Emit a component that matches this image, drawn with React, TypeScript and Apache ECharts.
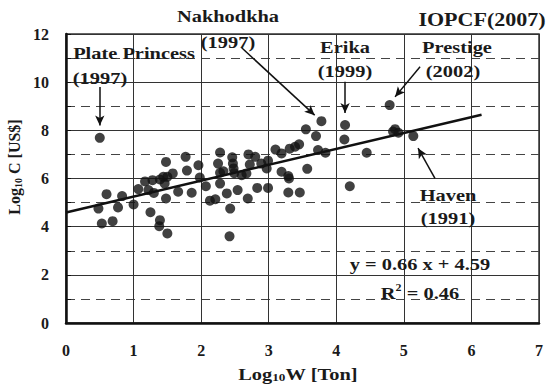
import React, { useEffect, useRef } from "react";
import * as echarts from "echarts";

// log10 of spilled oil weight (tons) and log10 of cleanup cost (US$), one pair per incident
const logWeight = [
  0.5, 0.48, 0.53, 0.69, 0.6, 0.77, 0.83, 1.0, 1.07, 1.17, 1.22, 1.3, 1.28, 1.39, 1.44,
  1.25, 1.39, 1.38, 1.5, 1.46, 1.48, 1.5, 1.58, 1.48, 1.66, 1.77, 1.79, 1.86, 1.96, 1.98,
  2.07, 2.13, 2.21, 2.28, 2.25, 2.28, 2.33, 2.28, 2.38, 2.43, 2.42, 2.46, 2.47, 2.48, 2.49,
  2.6, 2.54, 2.67, 2.69, 2.7, 2.8, 2.72, 2.89, 2.97, 2.99, 2.83, 2.99, 3.1, 3.19, 3.19,
  3.29, 3.3, 3.29, 3.46, 3.31, 3.39, 3.45, 3.57, 3.55, 3.7, 3.78, 3.73, 3.84, 4.13, 4.12,
  4.2, 4.45, 4.79, 4.84, 4.87, 4.92, 5.14,
];
const logCost = [
  7.69, 4.75, 4.13, 4.23, 5.35, 4.8, 5.27, 4.92, 5.56, 5.88, 5.52, 5.4, 5.93, 5.96, 6.07,
  4.6, 4.27, 4.02, 3.72, 5.79, 5.17, 6.07, 6.21, 6.69, 5.45, 6.9, 6.33, 5.41, 6.55, 6.04,
  5.68, 5.08, 5.14, 7.08, 6.62, 6.24, 6.3, 5.79, 5.38, 4.75, 3.6, 6.88, 6.62, 6.42, 6.22,
  6.14, 5.52, 6.21, 5.17, 7.0, 6.9, 6.58, 6.62, 6.42, 6.74, 5.61, 5.61, 7.2, 7.04, 6.28,
  6.1, 6.0, 5.42, 5.42, 7.24, 7.32, 7.42, 6.4, 8.04, 7.76, 8.38, 7.18, 7.07, 8.22, 7.62,
  5.68, 7.07, 9.05, 7.95, 8.05, 7.9, 7.76,
];

// least-squares fit y = slope * x + intercept
const slope = 0.66;
const intercept = 4.59;
const fitRange = [0, 6.15];
const rSquared = 0.46;

const xTicks = [0, 1, 2, 3, 4, 5, 6, 7];
const yTicks = [0, 2, 4, 6, 8, 10, 12];

const SERIF = "'Liberation Serif', 'Times New Roman', serif";
const INK = "#1a1a1a";

export default function App() {
  const ref = useRef<HTMLDivElement>(null);

  useEffect(() => {
    document.body.style.margin = "0";
    if (!ref.current) return;
    const chart = echarts.init(ref.current, undefined, { renderer: "svg" });

    const points = logWeight.map((w, i) => [w, logCost[i]]);
    const fitLine = fitRange.map((x) => [x, +(slope * x + intercept).toFixed(3)]);

    const boldText = (text: string, x: number, y: number, size = 17, scaleX = 1.2) => ({
      type: "text",
      x,
      y,
      scaleX,
      z: 20,
      style: {
        text,
        fill: INK,
        font: `bold ${size}px ${SERIF}`,
        align: "center",
        verticalAlign: "middle",
      },
    });

    const arrow = (from: number[], to: number[]) => [{ coord: from }, { coord: to }];

    const subscripted = (
      text: string,
      x: number,
      y: number,
      size: number,
      scaleX: number,
      rotation = 0
    ) => ({
      type: "text",
      x,
      y,
      rotation,
      scaleX,
      z: 20,
      style: {
        text,
        align: "center",
        verticalAlign: "middle",
        rich: {
          b: { font: `bold ${size}px ${SERIF}`, fill: INK, lineHeight: 17, verticalAlign: "top" },
          s: {
            font: `bold ${Math.round(size * 0.62)}px ${SERIF}`,
            fill: INK,
            lineHeight: 17,
            verticalAlign: "bottom",
          },
        },
      },
    });

    chart.setOption({
      animation: false,
      grid: {
        left: 66,
        right: 9,
        top: 34,
        bottom: 62,
        show: true,
        borderColor: "#333",
        borderWidth: 1.5,
        backgroundColor: "transparent",
      },
      xAxis: {
        type: "value",
        min: xTicks[0],
        max: xTicks[xTicks.length - 1],
        interval: 1,
        axisLine: { show: true, onZero: false, lineStyle: { color: "#111", width: 2.5 } },
        axisTick: { show: false },
        axisLabel: {
          margin: 19,
          color: INK,
          fontFamily: SERIF,
          fontWeight: "bold",
          fontSize: 16,
        },
        splitLine: { show: true, lineStyle: { color: "#333", width: 1 } },
      },
      yAxis: [
        {
          type: "value",
          min: yTicks[0],
          max: yTicks[yTicks.length - 1],
          interval: 2,
          axisLine: { show: true, onZero: false, lineStyle: { color: "#111", width: 2.5 } },
          axisTick: { show: false },
          axisLabel: {
            margin: 17,
            color: INK,
            fontFamily: SERIF,
            fontWeight: "bold",
            fontSize: 16,
          },
          splitLine: { show: true, lineStyle: { color: "#333", width: 1 } },
        },
        {
          type: "value",
          position: "left",
          min: yTicks[0],
          max: yTicks[yTicks.length - 1],
          interval: 1,
          axisLine: { show: false },
          axisLabel: { show: false },
          axisTick: { show: true, inside: true, length: 5, lineStyle: { color: "#111", width: 1 } },
          splitLine: {
            show: true,
            lineStyle: { color: ["transparent", "#444"], width: 1, type: [9, 6] },
          },
        },
      ],
      series: [
        {
          type: "scatter",
          data: points,
          symbol: "circle",
          symbolSize: 10,
          itemStyle: { color: "#111" },
          z: 5,
        },
        {
          type: "line",
          data: fitLine,
          showSymbol: false,
          symbol: "none",
          lineStyle: { color: "#111", width: 2.5 },
          z: 6,
          markLine: {
            silent: true,
            symbol: ["none", "arrow"],
            symbolSize: [7, 10],
            label: { show: false },
            lineStyle: { color: "#111", width: 1.5, type: "solid" },
            data: [
              arrow([0.5, 9.8], [0.5, 8.2]),
              arrow([2.6, 11.43], [3.68, 8.63]),
              arrow([4.13, 10.02], [4.13, 8.72]),
              arrow([5.24, 10.64], [4.87, 9.39]),
              arrow([5.46, 6.01], [5.21, 7.26]),
            ],
          },
        },
      ],
      graphic: [
        boldText("IOPCF(2007)", 482, 20, 19, 1.16),
        boldText("Nakhodkha", 228, 16),
        boldText("(1997)", 228, 42),
        boldText("Plate Princess", 134, 53),
        boldText("(1997)", 100, 78),
        boldText("Erika", 345, 47),
        boldText("(1999)", 345, 71),
        boldText("Prestige", 457, 47),
        boldText("(2002)", 453, 71),
        boldText("Haven", 448, 195),
        boldText("(1991)", 448, 218),
        boldText(`y = ${slope} x + ${intercept}`, 420, 264),
        {
          type: "text",
          x: 420,
          y: 292,
          scaleX: 1.2,
          z: 20,
          style: {
            text: `{b|R}{sup|2}{b| = ${rSquared}}`,
            align: "center",
            verticalAlign: "middle",
            rich: {
              b: { font: `bold 17px ${SERIF}`, fill: INK, lineHeight: 20, verticalAlign: "bottom" },
              sup: { font: `bold 10px ${SERIF}`, fill: INK, lineHeight: 20, verticalAlign: "top" },
            },
          },
        },
        subscripted("{b|Log}{s|10}{b|W [Ton]}", 298, 374, 17, 1.2),
        subscripted("{b|Log}{s|10}{b| C [US$]}", 15, 167, 16, 1.0, Math.PI / 2),
      ],
    });

    return () => chart.dispose();
  }, []);

  return (
    <div
      ref={ref}
      style={{ position: "absolute", left: 0, top: 0, width: 548, height: 385 }}
    />
  );
}
